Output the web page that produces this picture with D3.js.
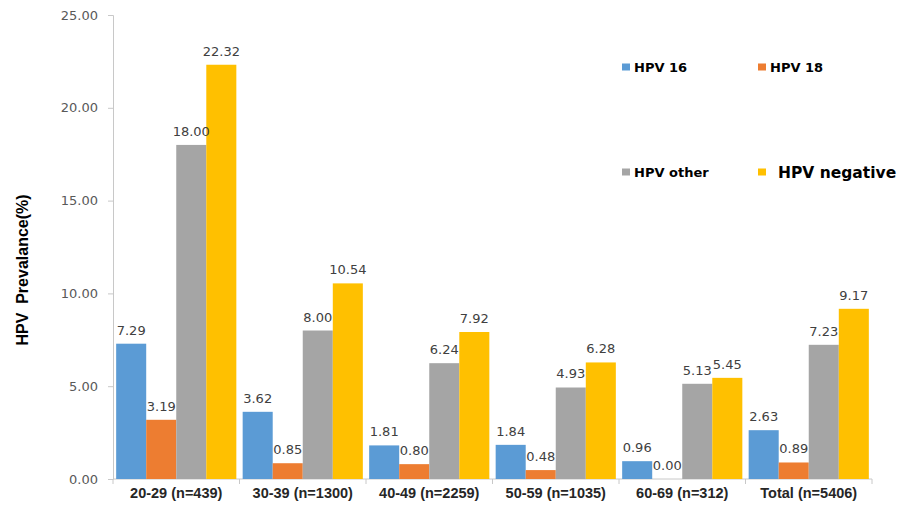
<!DOCTYPE html>
<html>
<head>
<meta charset="utf-8">
<script src="https://cdn.jsdelivr.net/npm/d3@7"></script>
<style>
  html, body { margin: 0; padding: 0; background: #fff; }
  svg { display: block; font-family: "Liberation Sans", Arial, sans-serif; }
</style>
</head>
<body>
<svg id="chart" width="899" height="506"></svg>
<script>
// Age groups along the x axis
const categories = ["20-29 (n=439)", "30-39 (n=1300)", "40-49 (n=2259)", "50-59 (n=1035)", "60-69 (n=312)", "Total (n=5406)"];
// Prevalence (%) per HPV status
const hpv16 = [7.29, 3.62, 1.81, 1.84, 0.96, 2.63];
const hpv18 = [3.19, 0.85, 0.80, 0.48, 0.00, 0.89];
const hpvOther = [18.00, 8.00, 6.24, 4.93, 5.13, 7.23];
const hpvNegative = [22.32, 10.54, 7.92, 6.28, 5.45, 9.17];
const seriesNames = ["HPV 16", "HPV 18", "HPV other", "HPV negative"];
const seriesColors = ["#5B9BD5", "#ED7D31", "#A5A5A5", "#FFC000"];
const yTicks = [0, 5, 10, 15, 20, 25];

const seriesValues = [hpv16, hpv18, hpvOther, hpvNegative];

const svg = d3.select("#chart");
const margin = { left: 113, right: 27, top: 15, bottom: 27 };
const W = 899, H = 506;

const x = d3.scaleBand()
  .domain(categories)
  .range([margin.left, W - margin.right])
  .paddingInner(0.05)
  .paddingOuter(0.025);
const xs = d3.scaleBand()
  .domain(seriesNames)
  .range([0, x.bandwidth()]);
const y = d3.scaleLinear().domain([0, 25]).range([H - margin.bottom, margin.top]);

// Y axis
const yAxis = svg.append("g")
  .attr("transform", `translate(${margin.left},0)`)
  .call(d3.axisLeft(y).tickValues(yTicks).tickFormat(d3.format(".2f")).tickSize(5).tickPadding(10));
yAxis.select(".domain").attr("stroke", "#c8c8c8");
yAxis.selectAll(".tick line").attr("stroke", "#c8c8c8");
yAxis.selectAll(".tick text")
  .attr("fill", "#595959")
  .style("font-family", "'DejaVu Sans', sans-serif")
  .style("font-size", "13px");

// X axis with boundary ticks between groups
const xAxisG = svg.append("g").attr("transform", `translate(0,${y(0)})`);
xAxisG.append("line")
  .attr("x1", margin.left).attr("x2", W - margin.right)
  .attr("stroke", "#c8c8c8");
const boundaries = d3.range(categories.length + 1).map(i => margin.left + i * (W - margin.left - margin.right) / categories.length);
xAxisG.selectAll("line.b").data(boundaries).join("line")
  .attr("class", "b")
  .attr("x1", d => d).attr("x2", d => d)
  .attr("y1", 0).attr("y2", 5)
  .attr("stroke", "#c8c8c8");
xAxisG.selectAll("text").data(categories).join("text")
  .attr("x", d => x(d) + x.bandwidth() / 2)
  .attr("y", 19)
  .attr("text-anchor", "middle")
  .attr("font-weight", "bold")
  .attr("font-size", "14.5px")
  .attr("fill", "#262626")
  .text(d => d);

// Bars
const rows = [];
categories.forEach((c, i) => {
  seriesNames.forEach((s, j) => rows.push({ c, s, j, v: seriesValues[j][i] }));
});
svg.append("g").selectAll("rect").data(rows).join("rect")
  .attr("x", d => x(d.c) + xs(d.s))
  .attr("y", d => y(d.v))
  .attr("width", xs.bandwidth())
  .attr("height", d => y(0) - y(d.v))
  .attr("fill", d => seriesColors[d.j]);

// Value labels
svg.append("g").selectAll("text").data(rows).join("text")
  .attr("x", d => x(d.c) + xs(d.s) + xs.bandwidth() / 2)
  .attr("y", d => y(d.v) - 9)
  .attr("text-anchor", "middle")
  .attr("font-family", "'DejaVu Sans', sans-serif")
  .attr("font-size", "13px")
  .attr("fill", "#404040")
  .text(d => d3.format(".2f")(d.v));

// Y axis title
svg.append("text")
  .attr("transform", `translate(28,270) rotate(-90)`)
  .attr("text-anchor", "middle")
  .attr("font-weight", "bold")
  .attr("font-size", "16px")
  .attr("fill", "#000")
  .attr("xml:space", "preserve")
  .text("HPV  Prevalance(%)");

// Legend
const legendPos = [
  { x: 622, y: 67, size: 13 },
  { x: 758, y: 67, size: 13 },
  { x: 622, y: 172, size: 13 },
  { x: 758, y: 172, size: 15.5 }
];
const legend = svg.append("g").selectAll("g").data(seriesNames).join("g")
  .attr("transform", (d, i) => `translate(${legendPos[i].x},${legendPos[i].y})`);
legend.append("rect")
  .attr("x", 0).attr("y", -3.5).attr("width", 8).attr("height", 7)
  .attr("fill", (d, i) => seriesColors[i]);
legend.append("text")
  .attr("x", (d, i) => i === 3 ? 20 : 12)
  .attr("y", (d, i) => i === 3 ? 6 : 5)
  .attr("font-family", "'DejaVu Sans', sans-serif")
  .attr("font-weight", "bold")
  .attr("font-size", (d, i) => legendPos[i].size + "px")
  .attr("fill", "#000")
  .text(d => d);
</script>
</body>
</html>
